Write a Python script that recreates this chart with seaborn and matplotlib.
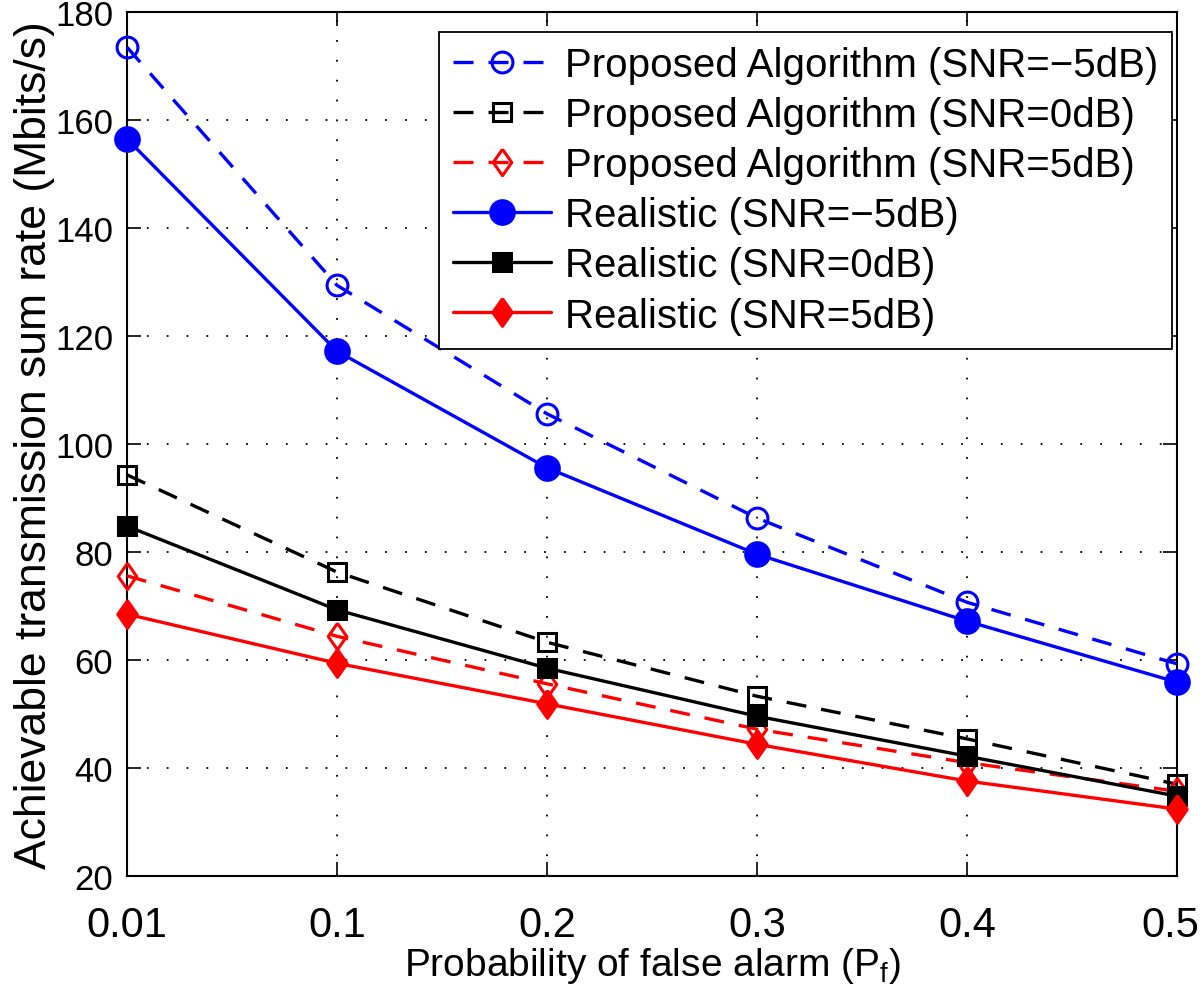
import numpy as np
import pandas as pd
import matplotlib
matplotlib.use('Agg')
import matplotlib.pyplot as plt
from matplotlib import font_manager
from matplotlib.transforms import ScaledTranslation
import seaborn as sns

# data
pf_labels = ['0.01', '0.1', '0.2', '0.3', '0.4', '0.5']
prop_m5 = [173.5, 129.4, 105.6, 86.3, 70.7, 59.3]
prop_0 = [94.3, 76.3, 63.3, 53.3, 45.4, 37.0]
prop_5 = [75.6, 64.4, 55.6, 47.2, 41.0, 35.7]
real_m5 = [156.5, 117.2, 95.6, 79.6, 67.2, 55.9]
real_0 = [84.8, 69.3, 58.5, 49.6, 42.2, 34.8]
real_5 = [68.5, 59.4, 51.9, 44.4, 37.6, 32.4]
y_ticks = [20, 40, 60, 80, 100, 120, 140, 160, 180]

series_names = ['Proposed Algorithm (SNR=\u22125dB)', 'Proposed Algorithm (SNR=0dB)',
                'Proposed Algorithm (SNR=5dB)', 'Realistic (SNR=\u22125dB)',
                'Realistic (SNR=0dB)', 'Realistic (SNR=5dB)']
series_vals = [prop_m5, prop_0, prop_5, real_m5, real_0, real_5]

sns.set_theme(style='white')
installed = {f.name for f in font_manager.fontManager.ttflist}
narrow = 'Liberation Sans Narrow' if 'Liberation Sans Narrow' in installed else 'Liberation Sans'
plt.rcParams['font.family'] = [narrow, 'DejaVu Sans']
plt.rcParams['mathtext.fontset'] = 'custom'
plt.rcParams['mathtext.rm'] = narrow
plt.rcParams['mathtext.it'] = narrow
for k in ['text.color', 'axes.labelcolor', 'xtick.color', 'ytick.color']:
    plt.rcParams[k] = 'black'

# long table for seaborn
rows = []
for name, vals in zip(series_names, series_vals):
    for i, v in enumerate(vals):
        rows.append({'pos': i, 'rate': v, 'series': name})
df = pd.DataFrame(rows)

# matlab-like diamond, a bit taller than wide
diamond = [(0, 1), (0.7, 0), (0, -1), (-0.7, 0), (0, 1)]

styles = {
    series_names[0]: dict(color='#0000ff', marker='o', ms=15, mfc='none', dashed=True),
    series_names[1]: dict(color='#000000', marker='s', ms=13, mfc='none', dashed=True),
    series_names[2]: dict(color='#ff0000', marker=diamond, ms=19, mfc='none', dashed=True),
    series_names[3]: dict(color='#0000ff', marker='o', ms=17, mfc='#0000ff', dashed=False),
    series_names[4]: dict(color='#000000', marker='s', ms=13, mfc='#000000', dashed=False),
    series_names[5]: dict(color='#ff0000', marker=diamond, ms=20, mfc='#ff0000', dashed=False),
}

fig = plt.figure(figsize=(12, 9.87), dpi=100)
ax = fig.add_axes([0.1058, 0.1114, 0.875, 0.8754])

for name in series_names:
    st = styles[name]
    sub = df[df['series'] == name]
    sns.lineplot(data=sub, x='pos', y='rate', ax=ax, color=st['color'], lw=2.4,
                 marker=st['marker'], markersize=st['ms'], markerfacecolor=st['mfc'],
                 markeredgecolor=st['color'], markeredgewidth=2.2,
                 dashes=False, label=name, clip_on=False, zorder=3)
    line = ax.get_lines()[-1]
    if st['dashed']:
        line.set_linestyle((0, (6, 4.5)))

ax.set_xlim(0, len(pf_labels) - 1)
ax.set_ylim(20, 180)
ax.set_xticks(range(len(pf_labels)))
ax.set_xticklabels(pf_labels, fontsize=30)
ax.set_yticks(y_ticks)
ax.set_yticklabels([str(t) for t in y_ticks], fontsize=25, family='Liberation Sans')
ax.tick_params(direction='in', length=10, width=1.2, top=True, right=True,
               bottom=True, left=True, colors='black', pad=10)
ax.tick_params(axis='x', pad=21)
ax.grid(True, color='black', linestyle=(0, (1, 10)), lw=1.3)
for sp in ax.spines.values():
    sp.set_color('black')
    sp.set_linewidth(1.5)

# keep the last tick label inside the canvas, flush with the right edge
last = ax.get_xticklabels()[-1]
last.set_ha('right')
last.set_transform(last.get_transform() + ScaledTranslation(0.22, 0, fig.dpi_scale_trans))

ax.set_xlabel('Probability of false alarm (P$_\\mathregular{f}$)', fontsize=28, labelpad=0)
ax.set_ylabel('Achievable transmission sum rate (Mbits/s)', fontsize=32, labelpad=0)

leg = ax.legend(loc='upper right', bbox_to_anchor=(0.9952, 0.9769), borderaxespad=0,
                fontsize=29, frameon=True, fancybox=False,
                framealpha=1, edgecolor='black', handlelength=2.45, handletextpad=0.33,
                labelspacing=0.3, borderpad=0.35, numpoints=1)
leg.get_frame().set_linewidth(1.3)
for h in leg.get_lines():
    h.set_linewidth(2.4)

fig.savefig('out.png', dpi=100)
